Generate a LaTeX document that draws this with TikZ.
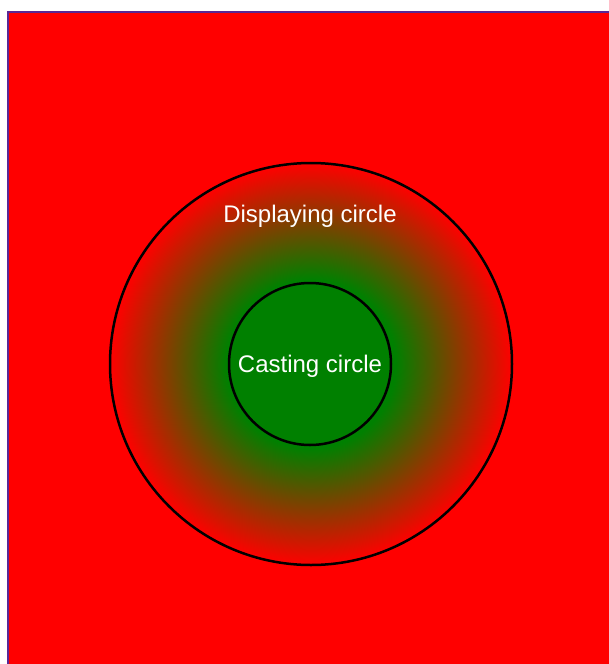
\documentclass[tikz,border=0pt]{standalone}
\usepackage{fontspec}
\setmainfont{Liberation Sans}
\usepackage{xcolor}
\usetikzlibrary{positioning}

\definecolor{castgreen}{RGB}{0,128,0}
\definecolor{framepurple}{RGB}{90,40,150}
\pgfdeclareradialshading{castglow}{\pgfpoint{0bp}{0bp}}{color(0bp)=(castgreen); color(10.5bp)=(castgreen); color(25bp)=(red); color(50bp)=(red)}

\begin{document}
\begin{tikzpicture}[
    x=1pt, y=-1pt,
    ring/.style={circle, draw=black, line width=2.5pt, inner sep=0pt},
    circtext/.style={text=white, inner sep=1pt, font=\fontsize{24}{28}\selectfont}
  ]
    \useasboundingbox (0,0) rectangle (609,664);
    \fill[red] (8,12) rectangle (609,664);
    \draw[framepurple, line width=2pt] (8,664) -- (8,12) -- (609,12);
    \node[ring, minimum size=402pt, shading=castglow] (display) at (311,364) {};
    \node[ring, minimum size=162pt, fill=castgreen] (cast) at (310,364) {};
    \node[circtext] (displaytext) at (310,216) {Displaying circle};
    \node[circtext] (casttext) at ([yshift=-2pt]cast.center) {Casting circle};
  \end{tikzpicture}
\end{document}
